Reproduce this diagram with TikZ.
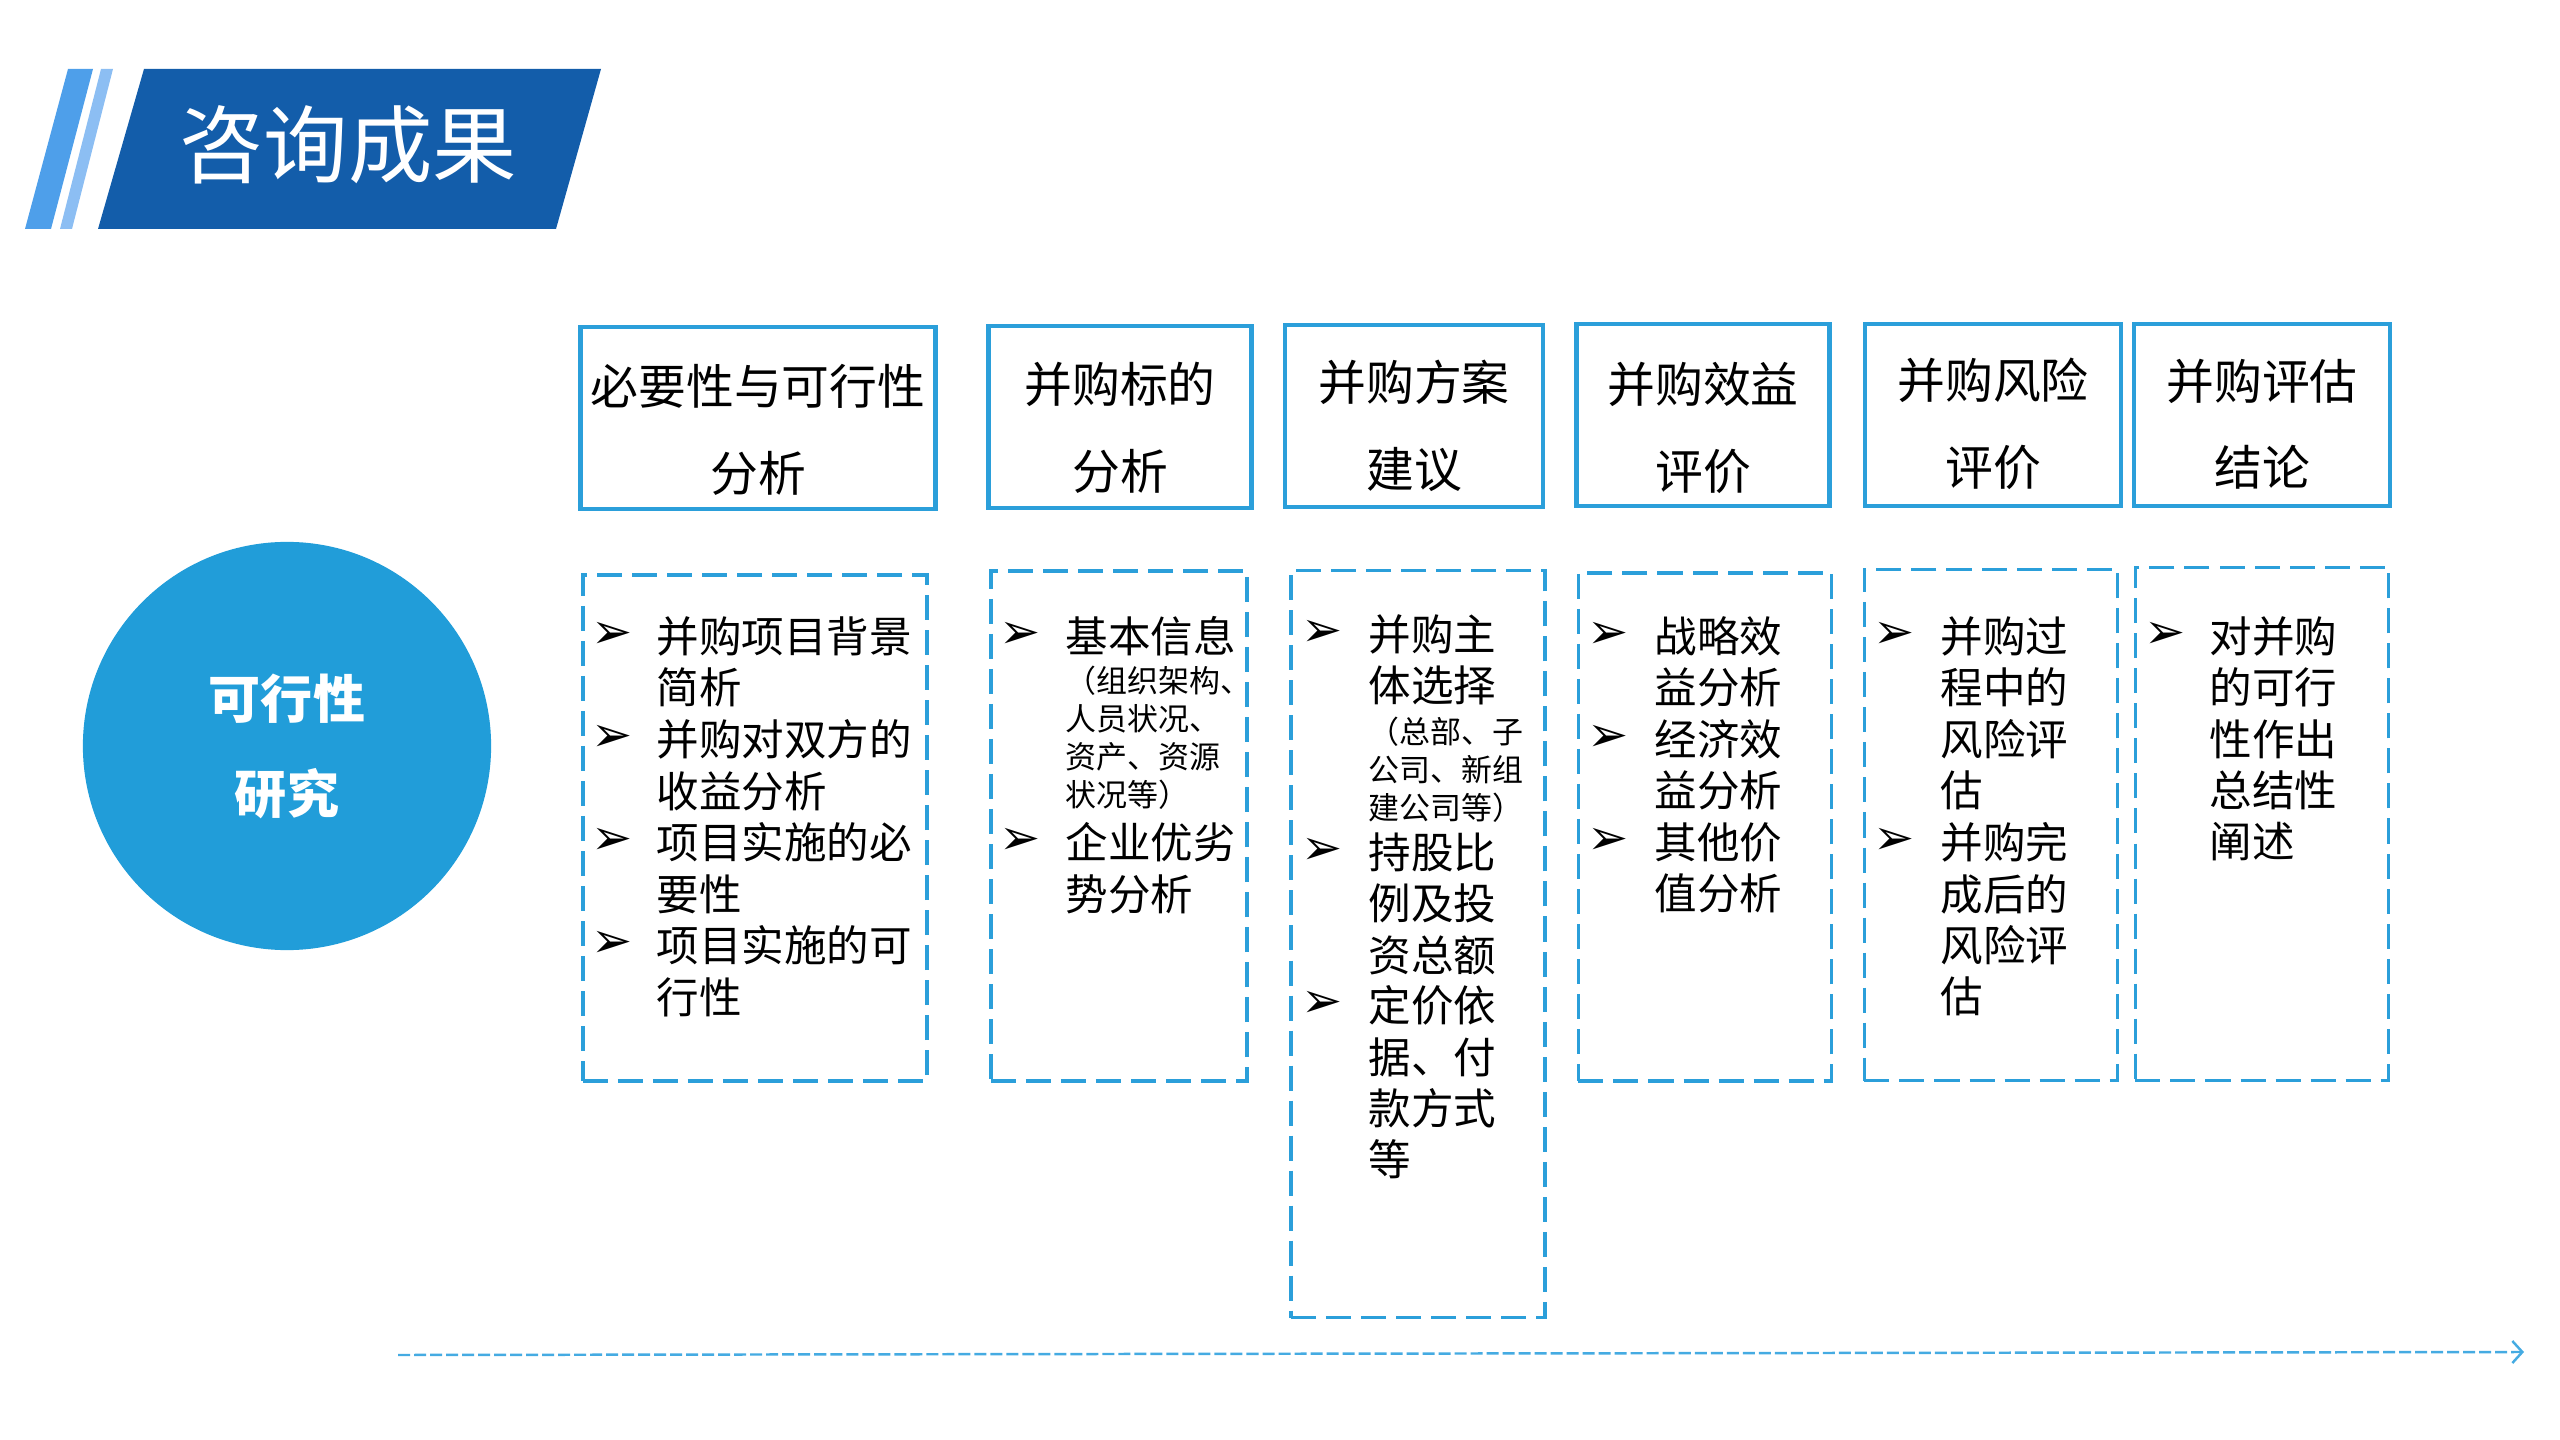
\documentclass[tikz,border=0pt]{standalone}
\usepackage{fontspec}
\setmainfont{Noto Sans CJK SC}
\newfontfamily\symfont{DejaVu Sans}
\usetikzlibrary{arrows.meta}

\definecolor{bannerblue}{HTML}{135DAA}
\definecolor{stripeblue}{HTML}{4E9FEA}
\definecolor{stripelight}{HTML}{8CBEF3}
\definecolor{circleblue}{HTML}{219DD9}
\definecolor{frameblue}{HTML}{2B9FDA}
\definecolor{axisblue}{HTML}{45ABE2}

\tikzset{
  headbox/.style={draw=frameblue, line width=1.3pt, minimum height=1.82cm, inner sep=0pt},
  headtext/.style={align=center, inner sep=0pt, font=\fontsize{13.6pt}{24.6pt}\selectfont},
  listbox/.style={draw=frameblue, line width=1pt, dash pattern=on 2.5mm off 1mm, inner sep=0pt},
  arrowmark/.style={inner sep=0pt, font=\symfont\fontsize{14pt}{14pt}\selectfont},
  itemtext/.style={anchor=north west, align=left, inner sep=0pt, font=\fontsize{12.1pt}{14.6pt}\selectfont},
  notetext/.style={anchor=north west, align=left, inner sep=0pt, font=\fontsize{8.8pt}{10.8pt}\selectfont},
}

\begin{document}
\begin{tikzpicture}[x=0.01cm, y=-0.01cm]
\useasboundingbox (0,0) rectangle (2560,1440);

% title banner
\fill[stripeblue] (68,69) -- (93,69) -- (51,229) -- (25,229) -- cycle;
\fill[stripelight] (101,69) -- (113,69) -- (72,229) -- (60,229) -- cycle;
\fill[bannerblue] (144,69) -- (601,69) -- (556,229) -- (98,229) -- cycle;
\node[font=\fontsize{24pt}{24pt}\selectfont, text=white] (title) at (348,145) {咨询成果};

% circle on the left
\node[circle, fill=circleblue, minimum size=4.08cm, align=center, text=white,
      font=\bfseries\fontsize{14.8pt}{27pt}\selectfont] (study) at (287,746) {可行性\\研究};

% heading boxes
\node[headbox, minimum width=3.55cm] (h1) at (758,418) {};
\node[headtext] (h1t) at (758,430) {必要性与可行性\\分析};
\node[headbox, minimum width=2.63cm] (h2) at (1120,417) {};
\node[headtext] (h2t) at (1120,428) {并购标的\\分析};
\node[headbox, minimum width=2.58cm] (h3) at (1414,416) {};
\node[headtext] (h3t) at (1414,426) {并购方案\\建议};
\node[headbox, minimum width=2.53cm] (h4) at (1703,415) {};
\node[headtext] (h4t) at (1703,428) {并购效益\\评价};
\node[headbox, minimum width=2.56cm] (h5) at (1993,415) {};
\node[headtext] (h5t) at (1993,424) {并购风险\\评价};
\node[headbox, minimum width=2.56cm] (h6) at (2262,415) {};
\node[headtext] (h6t) at (2262,424) {并购评估\\结论};

% dashed content boxes
\node[listbox, minimum width=3.44cm, minimum height=5.06cm] (l1) at (755,828) {};
\node[listbox, minimum width=2.56cm, minimum height=5.10cm] (l2) at (1119,826) {};
\node[listbox, minimum width=2.54cm, minimum height=7.47cm] (l3) at (1418,944) {};
\node[listbox, minimum width=2.53cm, minimum height=5.08cm] (l4) at (1705,827) {};
\node[listbox, minimum width=2.53cm, minimum height=5.11cm] (l5) at (1991,825) {};
\node[listbox, minimum width=2.53cm, minimum height=5.13cm] (l6) at (2262,824) {};

% box 1
\node[arrowmark] (l1a) at (612,635) {➢};
\node[itemtext] (l1at) at (656,616) {并购项目背景\\简析};
\node[arrowmark] (l1b) at (612,738) {➢};
\node[itemtext] (l1bt) at (656,719) {并购对双方的\\收益分析};
\node[arrowmark] (l1c) at (612,841) {➢};
\node[itemtext] (l1ct) at (656,822) {项目实施的必\\要性};
\node[arrowmark] (l1d) at (612,944) {➢};
\node[itemtext] (l1dt) at (656,925) {项目实施的可\\行性};

% box 2
\node[arrowmark] (l2a) at (1020,635) {➢};
\node[itemtext] (l2at) at (1065,616) {基本信息};
\node[notetext] (l2an) at (1065,665) {（组织架构、\\人员状况、\\资产、资源\\状况等）};
\node[arrowmark] (l2b) at (1020,841) {➢};
\node[itemtext] (l2bt) at (1065,822) {企业优劣\\势分析};

% box 3
\node[arrowmark] (l3a) at (1322,633) {➢};
\node[itemtext] (l3at) at (1368,614) {并购主\\体选择};
\node[notetext] (l3an) at (1368,716) {（总部、子\\公司、新组\\建公司等）};
\node[arrowmark] (l3b) at (1322,851) {➢};
\node[itemtext] (l3bt) at (1368,832) {持股比\\例及投\\资总额};
\node[arrowmark] (l3c) at (1322,1004) {➢};
\node[itemtext] (l3ct) at (1368,985) {定价依\\据、付\\款方式\\等};

% box 4
\node[arrowmark] (l4a) at (1608,635) {➢};
\node[itemtext] (l4at) at (1654,616) {战略效\\益分析};
\node[arrowmark] (l4b) at (1608,738) {➢};
\node[itemtext] (l4bt) at (1654,719) {经济效\\益分析};
\node[arrowmark] (l4c) at (1608,841) {➢};
\node[itemtext] (l4ct) at (1654,822) {其他价\\值分析};

% box 5
\node[arrowmark] (l5a) at (1894,635) {➢};
\node[itemtext] (l5at) at (1940,616) {并购过\\程中的\\风险评\\估};
\node[arrowmark] (l5b) at (1894,841) {➢};
\node[itemtext] (l5bt) at (1940,822) {并购完\\成后的\\风险评\\估};

% box 6
\node[arrowmark] (l6a) at (2165,635) {➢};
\node[itemtext] (l6at) at (2209,616) {对并购\\的可行\\性作出\\总结性\\阐述};

% time axis along the bottom
\coordinate (axisstart) at (398,1355);
\coordinate (axisend) at (2524,1352);
\draw[axisblue, line width=0.7pt, dash pattern=on 1.2mm off 0.4mm,
      -{Straight Barb[length=1mm, width=2.2mm]}] (axisstart) -- (axisend);
\end{tikzpicture}
\end{document}
